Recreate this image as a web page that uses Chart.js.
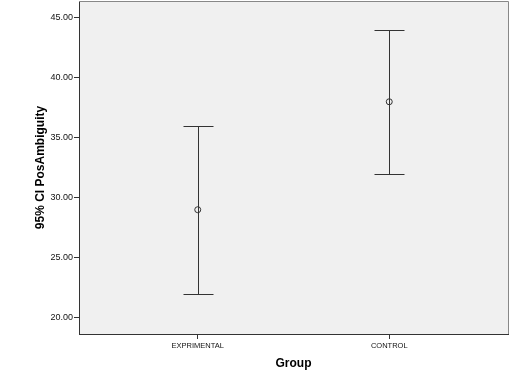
<!doctype html>
<html>
<head>
	<title>95% CI PosAmbiguity by Group</title>
	<script src="https://cdn.jsdelivr.net/npm/chart.js@4"></script>
	<style>
		body { margin: 0; background: #fff; }
		#holder { width: 527px; height: 374px; }
	</style>
</head>
<body>
	<div id="holder">
		<canvas id="chart-area" width="527" height="374"></canvas>
	</div>

	<script>
		// values
		const groups = ['EXPRIMENTAL', 'CONTROL'];
		const means = [29.0, 38.0];
		const lower = [22.0, 32.0];
		const upper = [36.0, 44.0];
		const yTicks = [20, 25, 30, 35, 40, 45];

		const LINE = '#333';

		const errorBars = {
			id: 'errorBars',
			beforeDraw(chart) {
				const {ctx, chartArea: a} = chart;
				ctx.save();
				ctx.fillStyle = '#fff';
				ctx.fillRect(0, 0, chart.width, chart.height);
				ctx.fillStyle = '#f0f0f0';
				ctx.fillRect(a.left, a.top, a.right - a.left, a.bottom - a.top);
				ctx.restore();
			},
			afterDraw(chart) {
				const {ctx, chartArea: a} = chart;
				const xs = chart.scales.x, ys = chart.scales.y;
				ctx.save();
				// top and right frame
				ctx.strokeStyle = '#888';
				ctx.lineWidth = 1;
				ctx.beginPath();
				ctx.moveTo(a.left, a.top + 0.5);
				ctx.lineTo(a.right + 0.5, a.top + 0.5);
				ctx.lineTo(a.right + 0.5, a.bottom);
				ctx.stroke();
				ctx.strokeStyle = LINE;
				groups.forEach((g, i) => {
					const x = Math.round(xs.getPixelForValue(i)) + 0.5;
					const yl = Math.round(ys.getPixelForValue(lower[i])) + 0.5;
					const yu = Math.round(ys.getPixelForValue(upper[i])) + 0.5;
					ctx.beginPath();
					ctx.moveTo(x, yu);
					ctx.lineTo(x, yl);
					ctx.moveTo(x - 15, yu);
					ctx.lineTo(x + 15, yu);
					ctx.moveTo(x - 15, yl);
					ctx.lineTo(x + 15, yl);
					ctx.stroke();
				});
				ctx.restore();
			}
		};

		const ctx2d = document.getElementById('chart-area').getContext('2d');
		window.myChart = new Chart(ctx2d, {
			type: 'scatter',
			data: {
				datasets: [{
					data: means.map((m, i) => ({x: i, y: m})),
					pointRadius: 3,
					pointHoverRadius: 3,
					pointBorderWidth: 1,
					pointBorderColor: LINE,
					pointBackgroundColor: 'rgba(0,0,0,0)'
				}]
			},
			options: {
				responsive: false,
				animation: false,
				layout: {autoPadding: false, padding: {left: 0, top: 1, right: 19, bottom: 0}},
				plugins: {
					legend: {display: false},
					tooltip: {enabled: false}
				},
				scales: {
					x: {
						type: 'linear',
						min: -0.62,
						max: 1.62,
						afterBuildTicks(scale) {
							scale.ticks = groups.map((g, i) => ({value: i}));
						},
						afterFit(scale) {
							scale.height = 40;
							scale.paddingLeft = 0;
							scale.paddingRight = 0;
						},
						ticks: {
							callback: (v) => groups[v],
							color: '#111',
							padding: 2,
							maxRotation: 0,
							font: {family: 'Liberation Sans', size: 7.5}
						},
						grid: {drawOnChartArea: false, tickLength: 5, color: LINE},
						border: {color: LINE},
						title: {
							display: true,
							text: 'Group',
							color: '#000',
							padding: {top: 0, bottom: 3},
							font: {family: 'Liberation Sans', size: 12, weight: 'bold'}
						}
					},
					y: {
						min: 18.64,
						max: 46.4,
						afterBuildTicks(scale) {
							scale.ticks = yTicks.map(v => ({value: v}));
						},
						afterFit(scale) {
							scale.width = 79;
							scale.paddingTop = 0;
							scale.paddingBottom = 0;
						},
						ticks: {
							callback: (v) => v.toFixed(2),
							color: '#111',
							padding: 1,
							font: {family: 'Liberation Sans', size: 9}
						},
						grid: {drawOnChartArea: false, tickLength: 5, color: LINE},
						border: {color: LINE},
						title: {
							display: true,
							text: '95% CI PosAmbiguity',
							color: '#000',
							padding: {top: 33, bottom: 0},
							font: {family: 'Liberation Sans', size: 12, weight: 'bold'}
						}
					}
				}
			},
			plugins: [errorBars]
		});
	</script>
</body>
</html>
